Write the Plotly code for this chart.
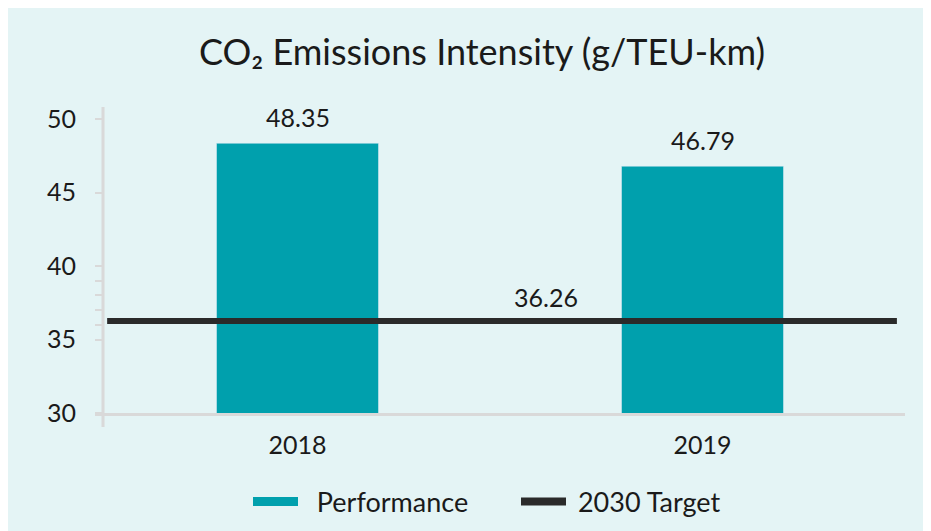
import plotly.graph_objects as go

# ---- data ----
years = ["2018", "2019"]
performance = [48.35, 46.79]
target_2030 = 36.26
y_tick_vals = [30, 35, 36, 37, 38, 39, 40, 45, 50]
y_tick_text = ["30", "35", "", "", "", "", "40", "45", "50"]

TEAL = "#00a0ad"
DARK = "#2a2a2a"
BG = "#e4f4f5"
GRID = "#d9d9d9"
FONT = "Lato"
TXT = "#1a1a1a"

xpos = list(range(len(years)))
x_range = [-0.5, len(years) - 0.5]

fig = go.Figure()

fig.add_trace(go.Bar(
    x=xpos, y=performance, width=0.40, marker_color=TEAL,
    showlegend=False, hoverinfo="y",
))

fig.add_trace(go.Scatter(
    x=[x_range[0] + 0.03, x_range[1] - 0.02], y=[target_2030, target_2030],
    mode="lines", line=dict(color=DARK, width=6), showlegend=False,
    hoverinfo="y",
))

# legend-only entries
fig.add_trace(go.Scatter(x=[None], y=[None], mode="lines", name="  Performance",
                         line=dict(color=TEAL, width=9)))
fig.add_trace(go.Scatter(x=[None], y=[None], mode="lines", name=" 2030 Target",
                         line=dict(color=DARK, width=8)))

annotations = []
for xi, v in zip(xpos, performance):
    annotations.append(dict(x=xi, y=v, xref="x", yref="y", text=f"{v:.2f}",
                            showarrow=False, yanchor="bottom", yshift=9,
                            font=dict(family=FONT, size=25, color=TXT)))
annotations.append(dict(x=(xpos[0] + xpos[-1]) / 2, y=target_2030, xref="x", yref="y",
                        text=f"{target_2030:.2f}", showarrow=False, yanchor="bottom",
                        yshift=7, xshift=46,
                        font=dict(family=FONT, size=25, color=TXT)))

shapes = [dict(type="line", xref="paper", yref="paper",
               x0=0.0099, x1=0.0099, y0=-0.048, y1=1.041,
               line=dict(color=GRID, width=3), layer="below")]

fig.update_layout(
    width=931, height=531,
    margin=dict(l=87, r=34, t=111, b=126),
    paper_bgcolor=BG, plot_bgcolor=BG,
    font=dict(family=FONT, size=25, color=TXT),
    title=dict(text="CO₂ Emissions Intensity (g/TEU-km)", x=474 / 931, xanchor="center",
               xref="container", y=1 - 44 / 531, yanchor="middle",
               font=dict(family=FONT, size=36, color=TXT)),
    xaxis=dict(range=x_range, tickvals=xpos, ticktext=years, showgrid=False,
               zeroline=False, showline=True, linecolor=GRID, linewidth=3,
               ticks="", ticklabelstandoff=8, tickfont=dict(size=25)),
    yaxis=dict(range=[30, 50], tickvals=y_tick_vals, ticktext=y_tick_text,
               anchor="free", position=0.0099, showgrid=False, zeroline=False,
               showline=False, ticks="outside", ticklen=8, tickwidth=2,
               tickcolor=GRID, ticklabelstandoff=14, tickfont=dict(size=25)),
    legend=dict(orientation="h", x=240 / 931, xanchor="left", xref="container",
                y=37 / 531, yref="container", yanchor="middle",
                font=dict(family=FONT, size=27, color=TXT),
                itemwidth=45, entrywidth=208, entrywidthmode="pixels",
                bgcolor="rgba(0,0,0,0)"),
    annotations=annotations,
    shapes=shapes,
    bargap=0.6,
)

fig.write_html("out.html")
